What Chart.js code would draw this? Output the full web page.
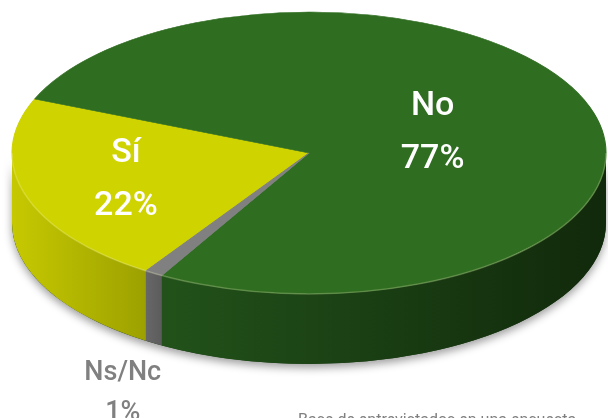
<!DOCTYPE html>
<html><head><meta charset="utf-8">
<script src="https://cdn.jsdelivr.net/npm/chart.js@4/dist/chart.umd.min.js"></script>
<style>html,body{margin:0;padding:0;background:#fff;overflow:hidden}#wrap{width:608px;height:418px;position:relative}</style>
</head><body><div id="wrap"><canvas id="c" width="608" height="418"></canvas></div>
<script>
const categories = ["Sí", "No", "Ns/Nc"];
const values = [22, 77, 1];
const percentLabels = ["22%", "77%", "1%"];
const footnote = "Base de entrevistados en una encuesta";

const topColors = ["#cfd300", "#2f6d21", "#808080"];
const sideColors = [["#c6c900", "#9da100"], ["#22521a", "#11290b"], ["#676767", "#5c5c5c"]];
const geo = { rx: 297, ry: 141, depth: 70 };
const labelStyle = [
  { mode: "in", frac: 0.645, color: "#ffffff", size: 34 },
  { mode: "in", frac: 0.44, color: "#ffffff", size: 34 },
  { mode: "out", fx: 1.2, fy: 1.36, color: "#808080", size: 27 }
];

function visiblePieces(s, e) {
  const out = [];
  for (let k = -1; k <= 2; k++) {
    const lo = 2 * Math.PI * k, hi = lo + Math.PI;
    const a = Math.max(s, lo), b = Math.min(e, hi);
    if (b > a) out.push([a - lo, b - lo]);
  }
  return out;
}

const pie3d = {
  id: "pie3d",
  beforeDatasetsDraw(chart) {
    const ctx = chart.ctx;
    const arcs = chart.getDatasetMeta(0).data;
    const cx = arcs[0].x, cy = arcs[0].y, R = arcs[0].outerRadius;
    const { rx, ry, depth: d } = geo;
    ctx.save();
    ctx.shadowColor = "rgba(0,0,0,0.38)";
    ctx.shadowBlur = 9;
    ctx.shadowOffsetY = 4;
    ctx.fillStyle = "#1a3a12";
    ctx.beginPath();
    ctx.ellipse(cx, cy + d, rx, ry, 0, 0, Math.PI, false);
    ctx.ellipse(cx, cy, rx, ry, 0, Math.PI, 0, true);
    ctx.closePath();
    ctx.fill();
    ctx.restore();
    arcs.forEach((arc, i) => {
      visiblePieces(arc.startAngle, arc.endAngle).forEach(([p1, p2]) => {
        const xr = cx + rx * Math.cos(p1), xl = cx + rx * Math.cos(p2);
        const g = ctx.createLinearGradient(xl, 0, xr, 0);
        g.addColorStop(0, sideColors[i][0]);
        g.addColorStop(1, sideColors[i][1]);
        ctx.fillStyle = g;
        ctx.beginPath();
        ctx.ellipse(cx, cy + d, rx, ry, 0, p1, p2, false);
        ctx.ellipse(cx, cy, rx, ry, 0, p2, p1, true);
        ctx.closePath();
        ctx.fill();
      });
    });
    ctx.save();
    ctx.translate(cx, cy);
    ctx.scale(rx / R, ry / R);
    ctx.translate(-cx, -cy);
  },
  afterDatasetsDraw(chart) {
    const ctx = chart.ctx;
    ctx.restore();
    const arcs = chart.getDatasetMeta(0).data;
    const cx = arcs[0].x, cy = arcs[0].y;
    const { rx, ry, depth: d } = geo;
    ctx.save();
    ctx.strokeStyle = "rgba(255,255,200,0.22)";
    ctx.lineWidth = 1.5;
    ctx.beginPath();
    ctx.ellipse(cx, cy, rx, ry, 0, 0, Math.PI, false);
    ctx.stroke();
    ctx.restore();
    ctx.save();
    ctx.textAlign = "center";
    ctx.textBaseline = "alphabetic";
    arcs.forEach((arc, i) => {
      const st = labelStyle[i];
      const mid = (arc.startAngle + arc.endAngle) / 2;
      ctx.fillStyle = st.color;
      ctx.font = "500 " + st.size + "px Roboto";
      if (st.mode === "in") {
        const x = cx + rx * st.frac * Math.cos(mid);
        const y = cy + ry * st.frac * Math.sin(mid);
        ctx.fillText(categories[i], x, y - 18);
        ctx.fillText(percentLabels[i], x, y + 35);
      } else {
        const x = cx + rx * st.fx * Math.cos(mid);
        const y = cy + d + ry * st.fy * Math.sin(mid);
        ctx.fillText(categories[i], x, y - 7);
        ctx.fillText(percentLabels[i], x, y + 33);
      }
    });
    ctx.fillStyle = "#808080";
    ctx.font = "16px Roboto";
    ctx.textAlign = "left";
    ctx.fillText(footnote, 298, 425);
    ctx.restore();
  }
};

new Chart(document.getElementById("c"), {
  type: "pie",
  data: {
    labels: categories,
    datasets: [{
      data: values,
      backgroundColor: topColors,
      borderColor: topColors,
      borderWidth: 0.5,
      clip: false
    }]
  },
  options: {
    responsive: false,
    animation: false,
    events: [],
    rotation: 213.3,
    layout: { padding: { left: 169, right: 159, top: 13, bottom: 125 } },
    plugins: { legend: { display: false }, tooltip: { enabled: false } }
  },
  plugins: [pie3d]
});
</script>
</body></html>
